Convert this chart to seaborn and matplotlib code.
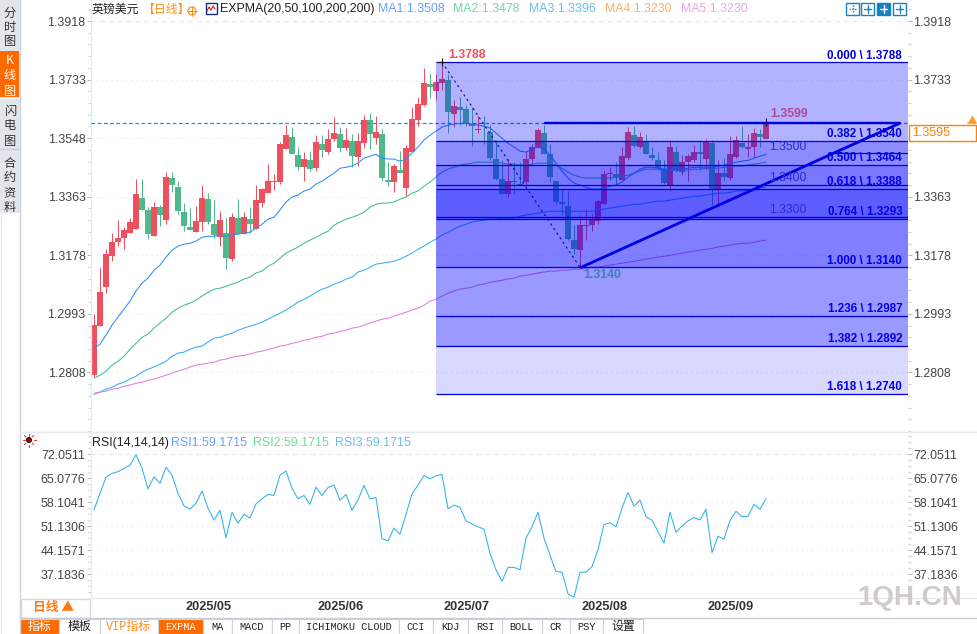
import numpy as np
import seaborn as sns
import matplotlib.pyplot as plt
from matplotlib.patches import Rectangle, Circle
from matplotlib.ticker import AutoMinorLocator
from matplotlib.transforms import ScaledTranslation

# -----------------------------
# DATA (prices in 1/10000)
# -----------------------------
opens = [12799,12954,13077,13175,13219,13232,13248,13260,13358,13321,13238,13330,13289,13422,13393,13314,13267,13251,13283,13355,13276,13235,13248,13166,13295,13245,13292,13260,13343,13374,13410,13409,13513,13551,13494,13456,13478,13453,13529,13504,13545,13561,13516,13538,13488,13532,13605,13548,13561,13415,13409,13447,13390,13504,13605,13652,13719,13698,13721,13733,13624,13645,13639,13592,13573,13590,13567,13482,13418,13371,13413,13402,13409,13482,13520,13564,13497,13412,13345,13333,13226,13194,13269,13273,13286,13339,13434,13434,13415,13485,13557,13520,13539,13494,13478,13450,13400,13504,13441,13472,13478,13504,13482,13532,13384,13437,13422,13488,13532,13513,13520,13561,13545]
closes = [12957,13061,13182,13219,13232,13257,13283,13371,13321,13245,13330,13305,13425,13399,13317,13270,13257,13286,13358,13283,13242,13289,13169,13298,13245,13298,13276,13352,13387,13412,13412,13529,13557,13497,13456,13482,13450,13535,13510,13545,13564,13516,13542,13491,13538,13605,13561,13567,13422,13409,13460,13437,13516,13608,13655,13722,13709,13725,13736,13630,13649,13636,13592,13586,13576,13588,13485,13418,13371,13413,13411,13400,13482,13520,13573,13497,13425,13346,13339,13229,13197,13273,13273,13289,13349,13434,13436,13425,13491,13567,13523,13551,13497,13485,13453,13406,13520,13444,13472,13491,13504,13497,13539,13384,13437,13425,13497,13542,13520,13520,13564,13551,13595]
highs = [12992,13140,13197,13247,13289,13267,13295,13418,13418,13331,13346,13336,13441,13441,13412,13343,13327,13333,13399,13374,13352,13317,13295,13311,13355,13314,13330,13399,13390,13466,13434,13535,13589,13583,13520,13504,13507,13557,13557,13576,13614,13583,13580,13561,13564,13621,13627,13617,13576,13472,13466,13507,13526,13646,13678,13769,13753,13750,13788,13750,13670,13679,13652,13647,13618,13618,13588,13542,13479,13482,13473,13472,13507,13529,13580,13589,13531,13412,13384,13381,13273,13305,13323,13308,13352,13444,13456,13472,13520,13583,13586,13567,13561,13520,13504,13478,13542,13523,13494,13497,13526,13542,13545,13542,13479,13485,13554,13554,13586,13561,13580,13576,13599]
lows = [12794,12954,13059,13159,13207,13197,13248,13260,13321,13229,13238,13270,13276,13377,13305,13254,13257,13251,13254,13276,13232,13207,13134,13159,13245,13245,13248,13260,13330,13374,13384,13403,13513,13497,13447,13412,13444,13444,13488,13497,13538,13504,13510,13456,13460,13516,13513,13529,13412,13396,13377,13437,13365,13504,13586,13649,13674,13670,13700,13563,13584,13589,13586,13523,13563,13531,13479,13417,13371,13363,13371,13400,13400,13463,13516,13497,13409,13339,13305,13226,13182,13140,13226,13254,13276,13339,13415,13400,13415,13479,13520,13516,13497,13479,13447,13403,13384,13441,13431,13412,13472,13447,13447,13336,13333,13412,13415,13485,13516,13488,13488,13520,13545]

expma20 = [12885,12897,12926,12957,12983,13008,13033,13065,13090,13106,13131,13147,13172,13194,13207,13213,13216,13223,13235,13238,13238,13242,13238,13242,13245,13248,13251,13264,13276,13292,13298,13321,13346,13362,13368,13381,13387,13403,13412,13425,13437,13453,13456,13460,13469,13485,13491,13497,13485,13482,13482,13475,13482,13501,13520,13542,13557,13570,13583,13589,13592,13595,13595,13592,13589,13586,13580,13564,13548,13532,13520,13507,13504,13513,13520,13516,13494,13469,13444,13422,13406,13400,13393,13387,13387,13390,13396,13400,13409,13425,13437,13450,13456,13456,13453,13450,13450,13450,13450,13453,13456,13456,13456,13456,13460,13463,13469,13472,13475,13478,13485,13491,13497]
expma50 = [12790,12799,12812,12831,12843,12859,12881,12900,12919,12929,12948,12964,12979,12998,13011,13020,13027,13036,13049,13061,13071,13074,13080,13087,13093,13103,13109,13122,13128,13144,13153,13169,13185,13194,13204,13216,13226,13235,13245,13254,13273,13283,13292,13298,13305,13314,13330,13339,13343,13343,13346,13355,13362,13374,13381,13396,13409,13425,13441,13450,13456,13463,13466,13469,13472,13472,13472,13472,13469,13466,13466,13463,13463,13466,13469,13469,13469,13463,13453,13441,13431,13425,13422,13422,13422,13422,13422,13425,13428,13431,13437,13444,13450,13450,13450,13447,13447,13447,13447,13447,13450,13450,13453,13453,13453,13456,13456,13460,13460,13463,13466,13469,13472]
expma100 = [12739,12746,12755,12761,12771,12777,12787,12796,12809,12818,12825,12834,12843,12859,12869,12872,12881,12888,12891,12904,12916,12919,12926,12932,12941,12948,12954,12960,12967,12976,12986,12995,13005,13017,13030,13039,13049,13061,13071,13077,13087,13093,13103,13109,13125,13131,13140,13150,13153,13156,13159,13166,13175,13185,13197,13207,13219,13229,13242,13251,13261,13270,13276,13283,13286,13289,13292,13292,13295,13295,13295,13302,13305,13308,13311,13314,13317,13317,13317,13317,13317,13317,13317,13317,13321,13324,13327,13330,13333,13336,13339,13339,13343,13346,13349,13349,13352,13355,13358,13362,13365,13365,13368,13371,13374,13374,13377,13381,13381,13384,13387,13390,13393]
expma200 = [12742,12746,12749,12755,12758,12765,12768,12774,12777,12783,12787,12793,12799,12806,12812,12818,12825,12831,12834,12837,12840,12847,12850,12856,12859,12862,12866,12872,12875,12881,12885,12891,12894,12900,12904,12910,12913,12919,12922,12929,12932,12938,12941,12948,12951,12957,12964,12970,12976,12979,12986,12992,12998,13005,13011,13020,13033,13039,13049,13058,13065,13071,13074,13077,13084,13087,13093,13096,13099,13103,13106,13112,13115,13118,13122,13125,13128,13128,13131,13131,13134,13134,13137,13140,13140,13144,13147,13150,13153,13156,13159,13162,13166,13169,13172,13175,13178,13181,13185,13188,13191,13194,13197,13200,13204,13207,13210,13213,13216,13216,13219,13223,13226]

rsi = [55.9,60.7,65.4,66.5,67.0,68.0,68.9,71.9,68.0,62.0,65.5,63.6,68.3,66.0,60.7,57.1,56.1,57.8,61.4,56.4,52.9,55.8,47.8,55.2,52.0,54.6,53.5,57.6,59.1,60.4,60.1,66.0,67.2,62.2,59.1,60.1,57.5,62.5,60.1,62.4,63.1,58.7,60.4,55.8,58.8,63.0,59.1,59.5,47.5,46.9,50.6,48.8,54.6,60.5,63.1,65.9,64.9,65.8,66.2,56.2,57.3,56.6,52.7,51.8,51.0,50.3,43.3,38.5,35.2,39.2,39.2,38.5,47.7,51.0,55.2,47.7,42.8,38.0,37.8,31.5,30.5,37.8,37.8,39.4,44.3,51.7,52.1,51.0,56.4,61.0,57.0,58.7,53.9,52.9,49.6,46.2,55.2,49.4,51.2,52.7,53.7,53.0,56.1,43.5,48.2,47.4,52.8,55.5,54.0,54.0,57.5,56.1,59.17]

price_ticks = [1.3918, 1.3733, 1.3548, 1.3363, 1.3178, 1.2993, 1.2808]
rsi_ticks = [72.0511, 65.0776, 58.1041, 51.1306, 44.1571, 37.1836]
fib_ratios = ["0.000", "0.382", "0.500", "0.618", "0.764", "1.000", "1.236", "1.382", "1.618"]
fib_levels = [1.3788, 1.3540, 1.3464, 1.3388, 1.3293, 1.3140, 1.2987, 1.2892, 1.2740]
fib_alpha = [0.30, 0.45, 0.53, 0.63, 0.50, 0.40, 0.40, 0.15]
round_levels = [1.3500, 1.3400, 1.3300]
month_pos = [15, 37, 58, 81, 102]
month_labels = ["2025/05", "2025/06", "2025/07", "2025/08", "2025/09"]
last_price = 1.3595

opens, closes = np.array(opens) / 1e4, np.array(closes) / 1e4
highs, lows = np.array(highs) / 1e4, np.array(lows) / 1e4
idx = np.arange(len(opens))

# -----------------------------
# FIGURE
# -----------------------------
sns.set_theme(style="white")
plt.rcParams["font.family"] = ["Liberation Sans", "Noto Sans CJK SC", "DejaVu Sans"]
W, H = 978, 634
fig = plt.figure(figsize=(W / 100, H / 100), dpi=100)


def box(left, top, right, bottom):
    return [left / W, 1 - bottom / H, (right - left) / W, (bottom - top) / H]


RED, GREEN = "#EF5060", "#50B88A"
GRID = "#e9ebed"
TXT = "#444444"
FIB = "#0000E0"
ax = fig.add_axes(box(91, 0, 908, 432))
ax2 = fig.add_axes(box(91, 432, 908, 598))
xlim = (-0.5, 135.67)

# -----------------------------
# CANDLES + EXPMA
# -----------------------------
colors = [RED if c >= o else GREEN for o, c in zip(opens, closes)]
ax.vlines(idx, lows, highs, colors=colors, lw=0.72, zorder=2)
ax.bar(idx, np.maximum(np.abs(closes - opens), 0.00025), bottom=np.minimum(opens, closes),
       width=0.84, color=colors, lw=0, zorder=2)

line_set = [(expma20, "#2E8BFF"), (expma50, "#3FBF8C"), (expma100, "#2FB0F0"), (expma200, "#E07FD8")]
for vals, col in line_set:
    sns.lineplot(x=idx, y=np.array(vals) / 1e4, color=col, lw=0.75, ax=ax, legend=False,
                 errorbar=None, zorder=3)

ax.axhline(last_price, color="#1E88FF", lw=0.9, ls=(0, (3, 2)), zorder=3)
ax.plot([58, 81], [fib_levels[0], fib_levels[5]], color="#0000C0", lw=0.8, ls=(0, (2, 3)), zorder=6)
ax.plot([58, 112], [1.3788, 1.3599], ls="none", marker="+", ms=6, mew=0.8, color="#111111", zorder=6)

# -----------------------------
# FIB BANDS
# -----------------------------
x0 = 57
x1 = xlim[1]
for top, bot, a in zip(fib_levels[:-1], fib_levels[1:], fib_alpha):
    ax.fill_between([x0, x1], bot, top, color="#0000FF", alpha=a, lw=0, zorder=4)
ax.hlines(fib_levels, x0, x1, color=FIB, lw=0.9, zorder=5)
ax.hlines(round_levels[1:], x0, x1, color=FIB, lw=0.9, zorder=5)
ax.hlines(round_levels[0], 122.3, x1, color=FIB, lw=0.9, zorder=5)
ax.plot([75.2, 134.3], [last_price, last_price], color="#0000E8", lw=1.7, zorder=6)
ax.plot([81.2, 134.3], [1.3140, 1.3595], color="#0000E8", lw=2.0, zorder=6)

for ratio, lv in zip(fib_ratios, fib_levels):
    ax.text(134.7, lv + 0.00015, f"{ratio} \\ {lv:.4f}", color="#0000E0", fontsize=8.4,
            fontweight="bold", ha="right", va="bottom", zorder=7)
for lv in round_levels:
    ax.text(112.5, lv + 0.0002, f"{lv:.4f}", color="#2A2AD8", fontsize=8.8, va="bottom", zorder=7)
ax.text(59, 1.3788 + 0.0005, "1.3788", color="#EF5060", fontsize=8.8, fontweight="bold", va="bottom", zorder=7)
ax.text(81.5, 1.3140 - 0.0004, "1.3140", color="#3F7FB8", fontsize=8.8, fontweight="bold", va="top", zorder=7)
ax.text(112.7, 1.3599 + 0.0006, "1.3599", color="#B04A96", fontsize=8.8, fontweight="bold", va="bottom", zorder=7)

ax.set_xlim(*xlim)
ax.set_ylim(1.3918 - 411 / 3166, 1.3918 + 21 / 3166)
ax.set_yticks(price_ticks)
ax.set_yticklabels([f"{t:.4f}" for t in price_ticks])
ax.yaxis.set_minor_locator(AutoMinorLocator(5))
ax.set_xticks([])
for i, t in enumerate(price_ticks):
    ax.axhline(t, color=GRID, lw=0.9, ls=(0, (4, 3)) if i == 0 else (0, (1, 3)), zorder=1)

# -----------------------------
# RSI
# -----------------------------
sns.lineplot(x=idx, y=rsi, color="#2DB2EA", lw=0.75, ax=ax2, legend=False, errorbar=None, zorder=3)
ax2.set_xlim(*xlim)
ax2.set_ylim(72.0511 - 143.7 * 0.29056, 72.0511 + 22.3 * 0.29056)
ax2.set_yticks(rsi_ticks)
ax2.set_yticklabels([f"{t:.4f}" for t in rsi_ticks])
ax2.yaxis.set_minor_locator(AutoMinorLocator(4))
for i, t in enumerate(rsi_ticks):
    ax2.axhline(t, color=GRID, lw=0.9, ls=(0, (4, 3)) if i == 0 else (0, (1, 3)), zorder=1)
ax2.set_xticks(month_pos)
ax2.set_xticklabels(month_labels, fontweight="bold", fontsize=9.2, color="#333333", ha="left")
ax2.tick_params(axis="x", length=4, width=0.8, color="#c8ccd0", direction="out", pad=-2)
for lab in ax2.get_xticklabels():
    lab.set_transform(lab.get_transform() + ScaledTranslation(2 / 100, 0, fig.dpi_scale_trans))

for a in (ax, ax2):
    a.set_xlabel("")
    a.set_ylabel("")
    a.patch.set_alpha(0)
    a.tick_params(axis="y", which="major", left=True, right=True, labelleft=True, labelright=True,
                  length=3, width=0.8, color="#b8bcc0", labelsize=8.9, labelcolor=TXT, pad=1)
    a.tick_params(axis="y", which="minor", left=True, right=True, length=2, width=0.8, color="#ccd0d4")
    for s in ("top", "right", "bottom"):
        a.spines[s].set_visible(False)
    a.spines["left"].set_color("#e4eaf0")
    a.spines["left"].set_linewidth(0.9)

# the price tag sits over this right-hand label
ax.yaxis.get_major_ticks()[2].label2.set_visible(False)

# -----------------------------
# WINDOW CHROME (pixel coordinates)
# -----------------------------
d = fig.add_axes([0, 0, 1, 1], zorder=10)
d.set_xlim(0, W)
d.set_ylim(H, 0)
d.axis("off")
d.patch.set_alpha(0)

ORANGE = "#FF6A00"
CJK = ["Noto Sans CJK SC", "DejaVu Sans"]
MONO = ["Liberation Mono", "Noto Sans CJK SC"]


def rect(x, y, w, h, fc="none", ec="none", lw=0.8, **kw):
    d.add_patch(Rectangle((x, y), w, h, fc=fc, ec=ec, lw=lw, **kw))


# sidebar
rect(0, 0, 20, 213, fc="#E3E5EC")
rect(0, 51, 19, 46, fc=ORANGE)
d.plot([0, 20], [98, 98], color="#f6f6f8", lw=1)
d.plot([0, 20], [149, 149], color="#c9ccd4", lw=0.8)
d.plot([20, 20], [0, H], color="#cfd3da", lw=1)
d.plot([0.5, 0.5], [213, H], color="#dfe8ee", lw=1)
side = [("分", 13, "#333"), ("时", 27, "#333"), ("图", 41, "#333"), ("K", 61, "w"), ("线", 76, "w"), ("图", 91, "w"),
        ("闪", 111, "#333"), ("电", 126, "#333"), ("图", 141, "#333"),
        ("合", 163, "#333"), ("约", 178, "#333"), ("资", 193, "#333"), ("料", 207, "#333")]
for ch, y, c in side:
    d.text(10, y, ch, family=CJK, fontsize=8.8, color=c, ha="center", va="center")

# separators
d.plot([20, W], [432, 432], color="#e6eaee", lw=1)
d.plot([91, W], [598, 598], color="#e6eaee", lw=1)
d.plot([20, W], [618, 618], color="#c8ccd4", lw=1)
rect(20.5, 598.5, 69, 19, ec="#d4d8de", lw=1)
d.text(54, 608, "日线 ▲", family=CJK, fontsize=9.2, fontweight="bold", color="#FF7A10", ha="center", va="center")

# header
d.text(92, 9, "英镑美元", family=CJK, fontsize=8.6, color="#222", va="center")
d.text(142, 9, "【日线】", family=CJK, fontsize=8.6, color="#FF8C1A", va="center", ha="left")
d.add_patch(Circle((192, 11), 4, fc="none", ec="#FF8C1A", lw=0.8))
d.plot([187, 197], [11, 11], color="#FF8C1A", lw=0.7)
d.plot([192, 192], [6, 16], color="#FF8C1A", lw=0.7)
rect(205.5, 2.5, 11, 11, fc="white", ec="#1A2A80", lw=1)
d.plot([207, 209, 211, 213, 215], [11, 7, 10, 6, 9], color="#D02020", lw=0.8)
d.text(220, 9, "EXPMA(20,50,100,200,200)", fontsize=8.9, color="#222", va="center")
ma_text = [(378, "MA1:1.3508", "#6A9EFF"), (453, "MA2:1.3478", "#72D8A0"), (529, "MA3:1.3396", "#6CBCF0"),
           (605, "MA4:1.3230", "#F5B06A"), (681, "MA5:1.3230", "#EDA6E0")]
for x, s, c in ma_text:
    d.text(x, 9, s, fontsize=8.9, color=c, va="center")

# toolbar icons
for i, x in enumerate([846, 861, 877, 893]):
    rect(x, 2.5, 13, 12.5, fc="#1A80C0" if i == 2 else "white", ec="#1A80C0", lw=1)
    col = "white" if i == 2 else "#1A80C0"
    d.plot([x + 3, x + 10], [9, 9], color=col, lw=1, ls=(0, (1, 1)) if i == 0 else "-")
    d.plot([x + 6.5, x + 6.5], [5, 13], color=col, lw=1, ls=(0, (1, 1)) if i == 0 else "-")

# last price tag
rect(908.5, 124.5, 67, 16.5, fc="white", ec="#FF8000", lw=1)
d.text(912, 133, "1.3595", fontsize=8.9, color="#FF8000", va="center")
d.plot([972], [119], marker="^", ms=4.5, color="#FF9A20", ls="none")
d.plot([968, 976], [123, 123], color="#FF9A20", lw=1.2)

# RSI header
d.add_patch(Circle((29, 440), 2.4, fc="#C00000", ec="#111", lw=0.8))
for a_ in np.linspace(0, 2 * np.pi, 8, endpoint=False):
    d.plot([29 + 4.5 * np.cos(a_), 29 + 6.5 * np.cos(a_)], [440 + 4.5 * np.sin(a_), 440 + 6.5 * np.sin(a_)],
           color="#E82020", lw=0.7)
d.text(92, 443, "RSI(14,14,14)", fontsize=8.9, color="#222", va="center")
rsi_text = [(171, "RSI1:59.1715", "#6A9EFF"), (253, "RSI2:59.1715", "#72D8A0"), (335, "RSI3:59.1715", "#6CBCF0")]
for x, s, c in rsi_text:
    d.text(x, 443, s, fontsize=8.9, color=c, va="center")

# bottom tabs
tabs = [("指标", 20, 59), ("模板", 59, 100), ("VIP指标", 100, 158), ("EXPMA", 158, 203), ("MA", 203, 232),
        ("MACD", 232, 272), ("PP", 272, 299), ("ICHIMOKU CLOUD", 299, 399), ("CCI", 399, 433), ("KDJ", 433, 468),
        ("RSI", 468, 502), ("BOLL", 502, 542), ("CR", 542, 570), ("PSY", 570, 603), ("设置", 603, 643)]
for name, a_, b_ in tabs:
    active = name in ("指标", "EXPMA")
    rect(a_, 618.5, b_ - a_, 15.5, fc=ORANGE if active else "white", ec="#d0d4da", lw=0.8)
    col = "white" if active else ("#FF8C1A" if name == "VIP指标" else "#222")
    size = 8.6 if name in ("指标", "模板", "设置", "VIP指标") else 7.4
    d.text((a_ + b_) / 2, 626.5, name, family=MONO if name != "设置" else CJK, fontsize=size, color=col,
           ha="center", va="center")

# watermark
d.text(962, 598, "1QH.CN", fontsize=20, fontweight="bold", color="#CFCBC7", ha="right", va="center")

fig.savefig("out.png", dpi=100)
